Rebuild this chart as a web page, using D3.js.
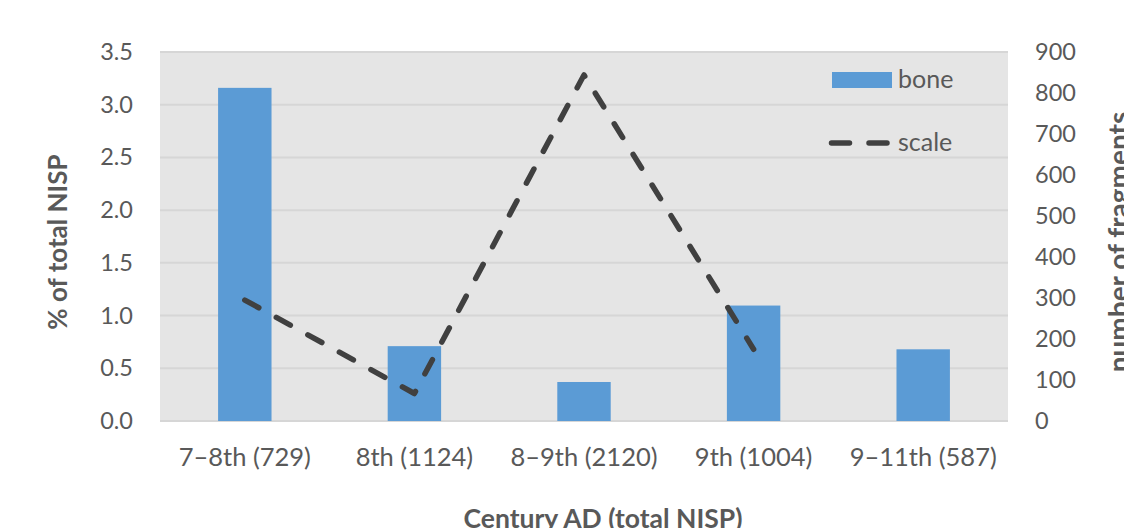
<!DOCTYPE html>
<html>
<head>
<meta charset="utf-8">
<script src="https://cdn.jsdelivr.net/npm/d3@7"></script>
<style>
  html, body { margin: 0; padding: 0; background: #fff; }
  svg { display: block; font-family: Lato, "Open Sans", sans-serif; }
</style>
</head>
<body>
<svg id="chart" width="1124" height="528"></svg>
<script>
const categories = ["7–8th (729)", "8th (1124)", "8–9th (2120)", "9th (1004)", "9–11th (587)"];
const boneValues = [3.16, 0.71, 0.37, 1.095, 0.68];
const scaleValues = [295, 67, 844, 175, null];
const leftTicks = [0, 0.5, 1.0, 1.5, 2.0, 2.5, 3.0, 3.5];
const rightTicks = [0, 100, 200, 300, 400, 500, 600, 700, 800, 900];
const seriesNames = ["bone", "scale"];

const W = 1124, H = 528;
const plot = { left: 160, right: 1008, top: 52, bottom: 421 };
const textColor = "#595959";
const barColor = "#5B9BD5";
const lineColor = "#404040";

const svg = d3.select("#chart");

const x = d3.scaleBand().domain(categories).range([plot.left, plot.right]).padding(0);
const yL = d3.scaleLinear().domain([0, 3.5]).range([plot.bottom, plot.top]);
const yR = d3.scaleLinear().domain([0, 900]).range([plot.bottom, plot.top]);

// plot background
svg.append("rect")
  .attr("x", plot.left).attr("y", plot.top)
  .attr("width", plot.right - plot.left).attr("height", plot.bottom - plot.top)
  .attr("fill", "#E5E5E5");

// gridlines
svg.append("g").selectAll("line").data(leftTicks).join("line")
  .attr("x1", plot.left).attr("x2", plot.right)
  .attr("y1", d => yL(d)).attr("y2", d => yL(d))
  .attr("stroke", "#D6D6D6").attr("stroke-width", 2);

// left axis
const leftAxis = d3.axisLeft(yL).tickValues(leftTicks).tickFormat(d3.format(".1f")).tickSize(0).tickPadding(27);
const gL = svg.append("g").attr("transform", `translate(${plot.left},0)`).call(leftAxis);
gL.select(".domain").remove();
gL.selectAll("text").attr("fill", textColor).style("font-size", "23.5px").style("font-family", "Lato");

// right axis
const rightAxis = d3.axisRight(yR).tickValues(rightTicks).tickFormat(d3.format("d")).tickSize(0).tickPadding(27);
const gR = svg.append("g").attr("transform", `translate(${plot.right},0)`).call(rightAxis);
gR.select(".domain").remove();
gR.selectAll("text").attr("fill", textColor).style("font-size", "23.5px").style("font-family", "Lato");

// bottom axis
const bottomAxis = d3.axisBottom(x).tickSize(0).tickPadding(27);
const gB = svg.append("g").attr("transform", `translate(0,${plot.bottom})`).call(bottomAxis);
gB.select(".domain").remove();
gB.selectAll("text").attr("fill", textColor).style("font-size", "25.5px").style("font-family", "Lato");

// bars
const barW = x.bandwidth() * 0.315;
svg.append("g").selectAll("rect").data(categories).join("rect")
  .attr("x", (d) => x(d) + x.bandwidth() / 2 - barW / 2)
  .attr("y", (d, i) => yL(boneValues[i]))
  .attr("width", barW)
  .attr("height", (d, i) => yL(0) - yL(boneValues[i]))
  .attr("fill", barColor);

// line
const lineData = categories.map((c, i) => ({ c, v: scaleValues[i] })).filter(d => d.v !== null);
const line = d3.line().x(d => x(d.c) + x.bandwidth() / 2).y(d => yR(d.v));
svg.append("path").datum(lineData)
  .attr("d", line)
  .attr("fill", "none")
  .attr("stroke", lineColor)
  .attr("stroke-width", 5.5)
  .attr("stroke-dasharray", "16,20")
  .attr("stroke-linecap", "round")
  .attr("stroke-linejoin", "round");

// legend
const lg = svg.append("g");
lg.append("rect").attr("x", 832).attr("y", 72).attr("width", 60).attr("height", 16).attr("fill", barColor);
lg.append("text").attr("x", 898).attr("y", 88).text(seriesNames[0])
  .attr("fill", textColor).style("font-size", "25px");
lg.append("line").attr("x1", 831.5).attr("x2", 889).attr("y1", 143).attr("y2", 143)
  .attr("stroke", lineColor).attr("stroke-width", 5.5).attr("stroke-dasharray", "18,19.5").attr("stroke-linecap", "round");
lg.append("text").attr("x", 898).attr("y", 151).text(seriesNames[1])
  .attr("fill", textColor).style("font-size", "25px");

// axis titles
svg.append("text")
  .attr("transform", `translate(67,242) rotate(-90)`)
  .attr("text-anchor", "middle")
  .attr("fill", textColor).style("font-size", "26px").style("font-weight", "bold")
  .text("% of total NISP");

svg.append("text")
  .attr("transform", `translate(1129,242) rotate(-90)`)
  .attr("text-anchor", "middle")
  .attr("fill", textColor).style("font-size", "28px").style("font-weight", "bold")
  .text("number of fragments");

svg.append("text")
  .attr("x", 603).attr("y", 528)
  .attr("text-anchor", "middle")
  .attr("fill", textColor).style("font-size", "26.5px").style("font-weight", "bold")
  .text("Century AD (total NISP)");
</script>
</body>
</html>
